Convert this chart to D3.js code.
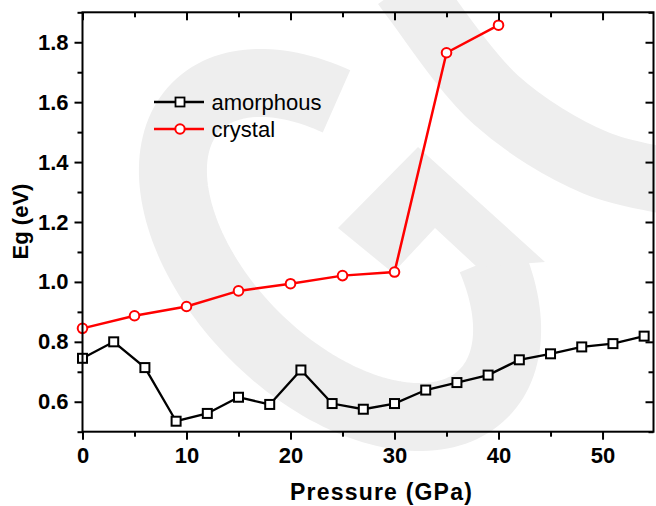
<!DOCTYPE html>
<html>
<head>
<meta charset="utf-8">
<script src="https://cdn.jsdelivr.net/npm/d3@7"></script>
<style>
  html, body { margin: 0; padding: 0; background: #fff; }
  svg { display: block; font-family: "Liberation Sans", Arial, sans-serif; }
</style>
</head>
<body>
<div id="chart"></div>
<script>
const pressureAmorphous = [0, 3, 6, 9, 12, 15, 18, 21, 24, 27, 30, 33, 36, 39, 42, 45, 48, 51, 54];
const egAmorphous = [0.745, 0.800, 0.714, 0.535, 0.561, 0.615, 0.591, 0.706, 0.594, 0.575,
                     0.594, 0.639, 0.664, 0.689, 0.740, 0.760, 0.783, 0.794, 0.819];
const pressureCrystal = [0, 5, 10, 15, 20, 25, 30, 35, 40];
const egCrystal = [0.845, 0.887, 0.918, 0.970, 0.994, 1.021, 1.033, 1.765, 1.857];

const xMajorTicks = [0, 10, 20, 30, 40, 50];
const xMinorTicks = [5, 15, 25, 35, 45];
const yMajorTicks = [0.6, 0.8, 1.0, 1.2, 1.4, 1.6, 1.8];
const yMinorTicks = [0.5, 0.7, 0.9, 1.1, 1.3, 1.5, 1.7, 1.9];

const seriesNames = ['amorphous', 'crystal'];

// SVG-Container
const width = 656;
const height = 506;
const svg = d3.select("#chart").append("svg")
    .attr("width", width)
    .attr("height", height);

const plotLeft = 82.5, plotRight = 653.5, plotTop = 12.3, plotBottom = 431.7;

const x = d3.scaleLinear().domain([0, 54.9]).range([plotLeft, plotRight]);
const y = d3.scaleLinear().domain([0.5, 1.9]).range([plotBottom, plotTop]);

// Wasserzeichen im Hintergrund
const wm = svg.append("g").attr("fill", "none").attr("stroke", "#eeeeee");
const cx = 340, cy = 250, ea = 203, eb = 121, s = Math.SQRT1_2;
const arcPts = d3.range(-56, 240, 2).map(deg => {
    const t = deg * Math.PI / 180;
    const u = ea * Math.cos(t), v = eb * Math.sin(t);
    return [cx + (u - v) * s, cy + (u + v) * s];
});
wm.append("path")
    .attr("d", d3.line()(arcPts))
    .attr("stroke-width", 68);
wm.append("path")
    .attr("d", "M338,228 L418,147 L545,262 L477,267 L435,228 L393,273 Z")
    .attr("stroke", "none")
    .attr("fill", "#eeeeee");
wm.append("path")
    .attr("d", d3.line().curve(d3.curveCatmullRom)([[405, -15], [416, 0], [496, 100], [596, 163], [680, 183]]))
    .attr("stroke-width", 66);

// Linien
const line = d3.line().x(d => x(d[0])).y(d => y(d[1]));
const amorphous = pressureAmorphous.map((p, i) => [p, egAmorphous[i]]);
const crystal = pressureCrystal.map((p, i) => [p, egCrystal[i]]);

svg.append("path")
    .attr("d", line(amorphous))
    .attr("fill", "none")
    .attr("stroke", "#000")
    .attr("stroke-width", 2.3);

svg.append("path")
    .attr("d", line(crystal))
    .attr("fill", "none")
    .attr("stroke", "#ff0000")
    .attr("stroke-width", 2.5);

// Symbole
svg.selectAll(".sq").data(amorphous).enter().append("rect")
    .attr("x", d => x(d[0]) - 4.5)
    .attr("y", d => y(d[1]) - 4.5)
    .attr("width", 9)
    .attr("height", 9)
    .attr("fill", "#fff")
    .attr("stroke", "#000")
    .attr("stroke-width", 2);

svg.selectAll(".ci").data(crystal).enter().append("circle")
    .attr("cx", d => x(d[0]))
    .attr("cy", d => y(d[1]))
    .attr("r", 4.8)
    .attr("fill", "#fff")
    .attr("stroke", "#ff0000")
    .attr("stroke-width", 2);

// Achsen
function styleAxis(g) {
    g.select(".domain").remove();
    g.selectAll(".tick line").attr("stroke", "#000").attr("stroke-width", 2);
    g.selectAll("text")
        .attr("fill", "#000")
        .style("font-size", "22px")
        .style("font-weight", "bold")
        .style("font-family", "'Liberation Sans', Arial, sans-serif");
}

const fmt = d3.format(".1f");

svg.append("g").attr("transform", `translate(0,${plotBottom})`)
    .call(d3.axisBottom(x).tickValues(xMajorTicks).tickSize(8).tickPadding(8).tickFormat(d3.format("d")))
    .call(styleAxis);
svg.append("g").attr("transform", `translate(0,${plotBottom})`)
    .call(d3.axisBottom(x).tickValues(xMinorTicks).tickSize(5).tickFormat(""))
    .call(styleAxis);
svg.append("g").attr("transform", `translate(0,${plotTop})`)
    .call(d3.axisTop(x).tickValues(xMajorTicks).tickSize(-8).tickFormat(""))
    .call(styleAxis);
svg.append("g").attr("transform", `translate(0,${plotTop})`)
    .call(d3.axisTop(x).tickValues(xMinorTicks).tickSize(-5).tickFormat(""))
    .call(styleAxis);

svg.append("g").attr("transform", `translate(${plotLeft},0)`)
    .call(d3.axisLeft(y).tickValues(yMajorTicks).tickSize(8).tickPadding(6).tickFormat(fmt))
    .call(styleAxis);
svg.append("g").attr("transform", `translate(${plotLeft},0)`)
    .call(d3.axisLeft(y).tickValues(yMinorTicks).tickSize(5).tickFormat(""))
    .call(styleAxis);
svg.append("g").attr("transform", `translate(${plotRight},0)`)
    .call(d3.axisRight(y).tickValues(yMajorTicks).tickSize(-8).tickFormat(""))
    .call(styleAxis);
svg.append("g").attr("transform", `translate(${plotRight},0)`)
    .call(d3.axisRight(y).tickValues(yMinorTicks).tickSize(-5).tickFormat(""))
    .call(styleAxis);

// Rahmen
svg.append("rect")
    .attr("x", plotLeft)
    .attr("y", plotTop)
    .attr("width", plotRight - plotLeft)
    .attr("height", plotBottom - plotTop)
    .attr("fill", "none")
    .attr("stroke", "#000")
    .attr("stroke-width", 2);

// Achsentitel
svg.append("text")
    .attr("x", 381.5)
    .attr("y", 500)
    .attr("text-anchor", "middle")
    .style("font-size", "23px")
    .style("font-weight", "bold")
    .style("letter-spacing", "1.2px")
    .text("Pressure (GPa)");

svg.append("text")
    .attr("transform", "translate(28,221.5) rotate(-90)")
    .attr("text-anchor", "middle")
    .style("font-size", "22px")
    .style("font-weight", "bold")
    .text("Eg (eV)");

// Legende
const legend = svg.append("g");
const legendRows = [
    { name: seriesNames[0], color: "#000", width: 2.3, y: 102 },
    { name: seriesNames[1], color: "#ff0000", width: 2.5, y: 129 }
];
legendRows.forEach((r, i) => {
    legend.append("line")
        .attr("x1", 154).attr("x2", 204)
        .attr("y1", r.y).attr("y2", r.y)
        .attr("stroke", r.color)
        .attr("stroke-width", r.width);
    if (i === 0) {
        legend.append("rect")
            .attr("x", 175.5).attr("y", r.y - 4.5)
            .attr("width", 9).attr("height", 9)
            .attr("fill", "#fff").attr("stroke", "#000").attr("stroke-width", 1.8);
    } else {
        legend.append("circle")
            .attr("cx", 180).attr("cy", r.y).attr("r", 4.7)
            .attr("fill", "#fff").attr("stroke", "#ff0000").attr("stroke-width", 2);
    }
    legend.append("text")
        .attr("x", 211.5)
        .attr("y", r.y + 8)
        .style("font-size", "22px")
        .text(r.name);
});
</script>
</body>
</html>
